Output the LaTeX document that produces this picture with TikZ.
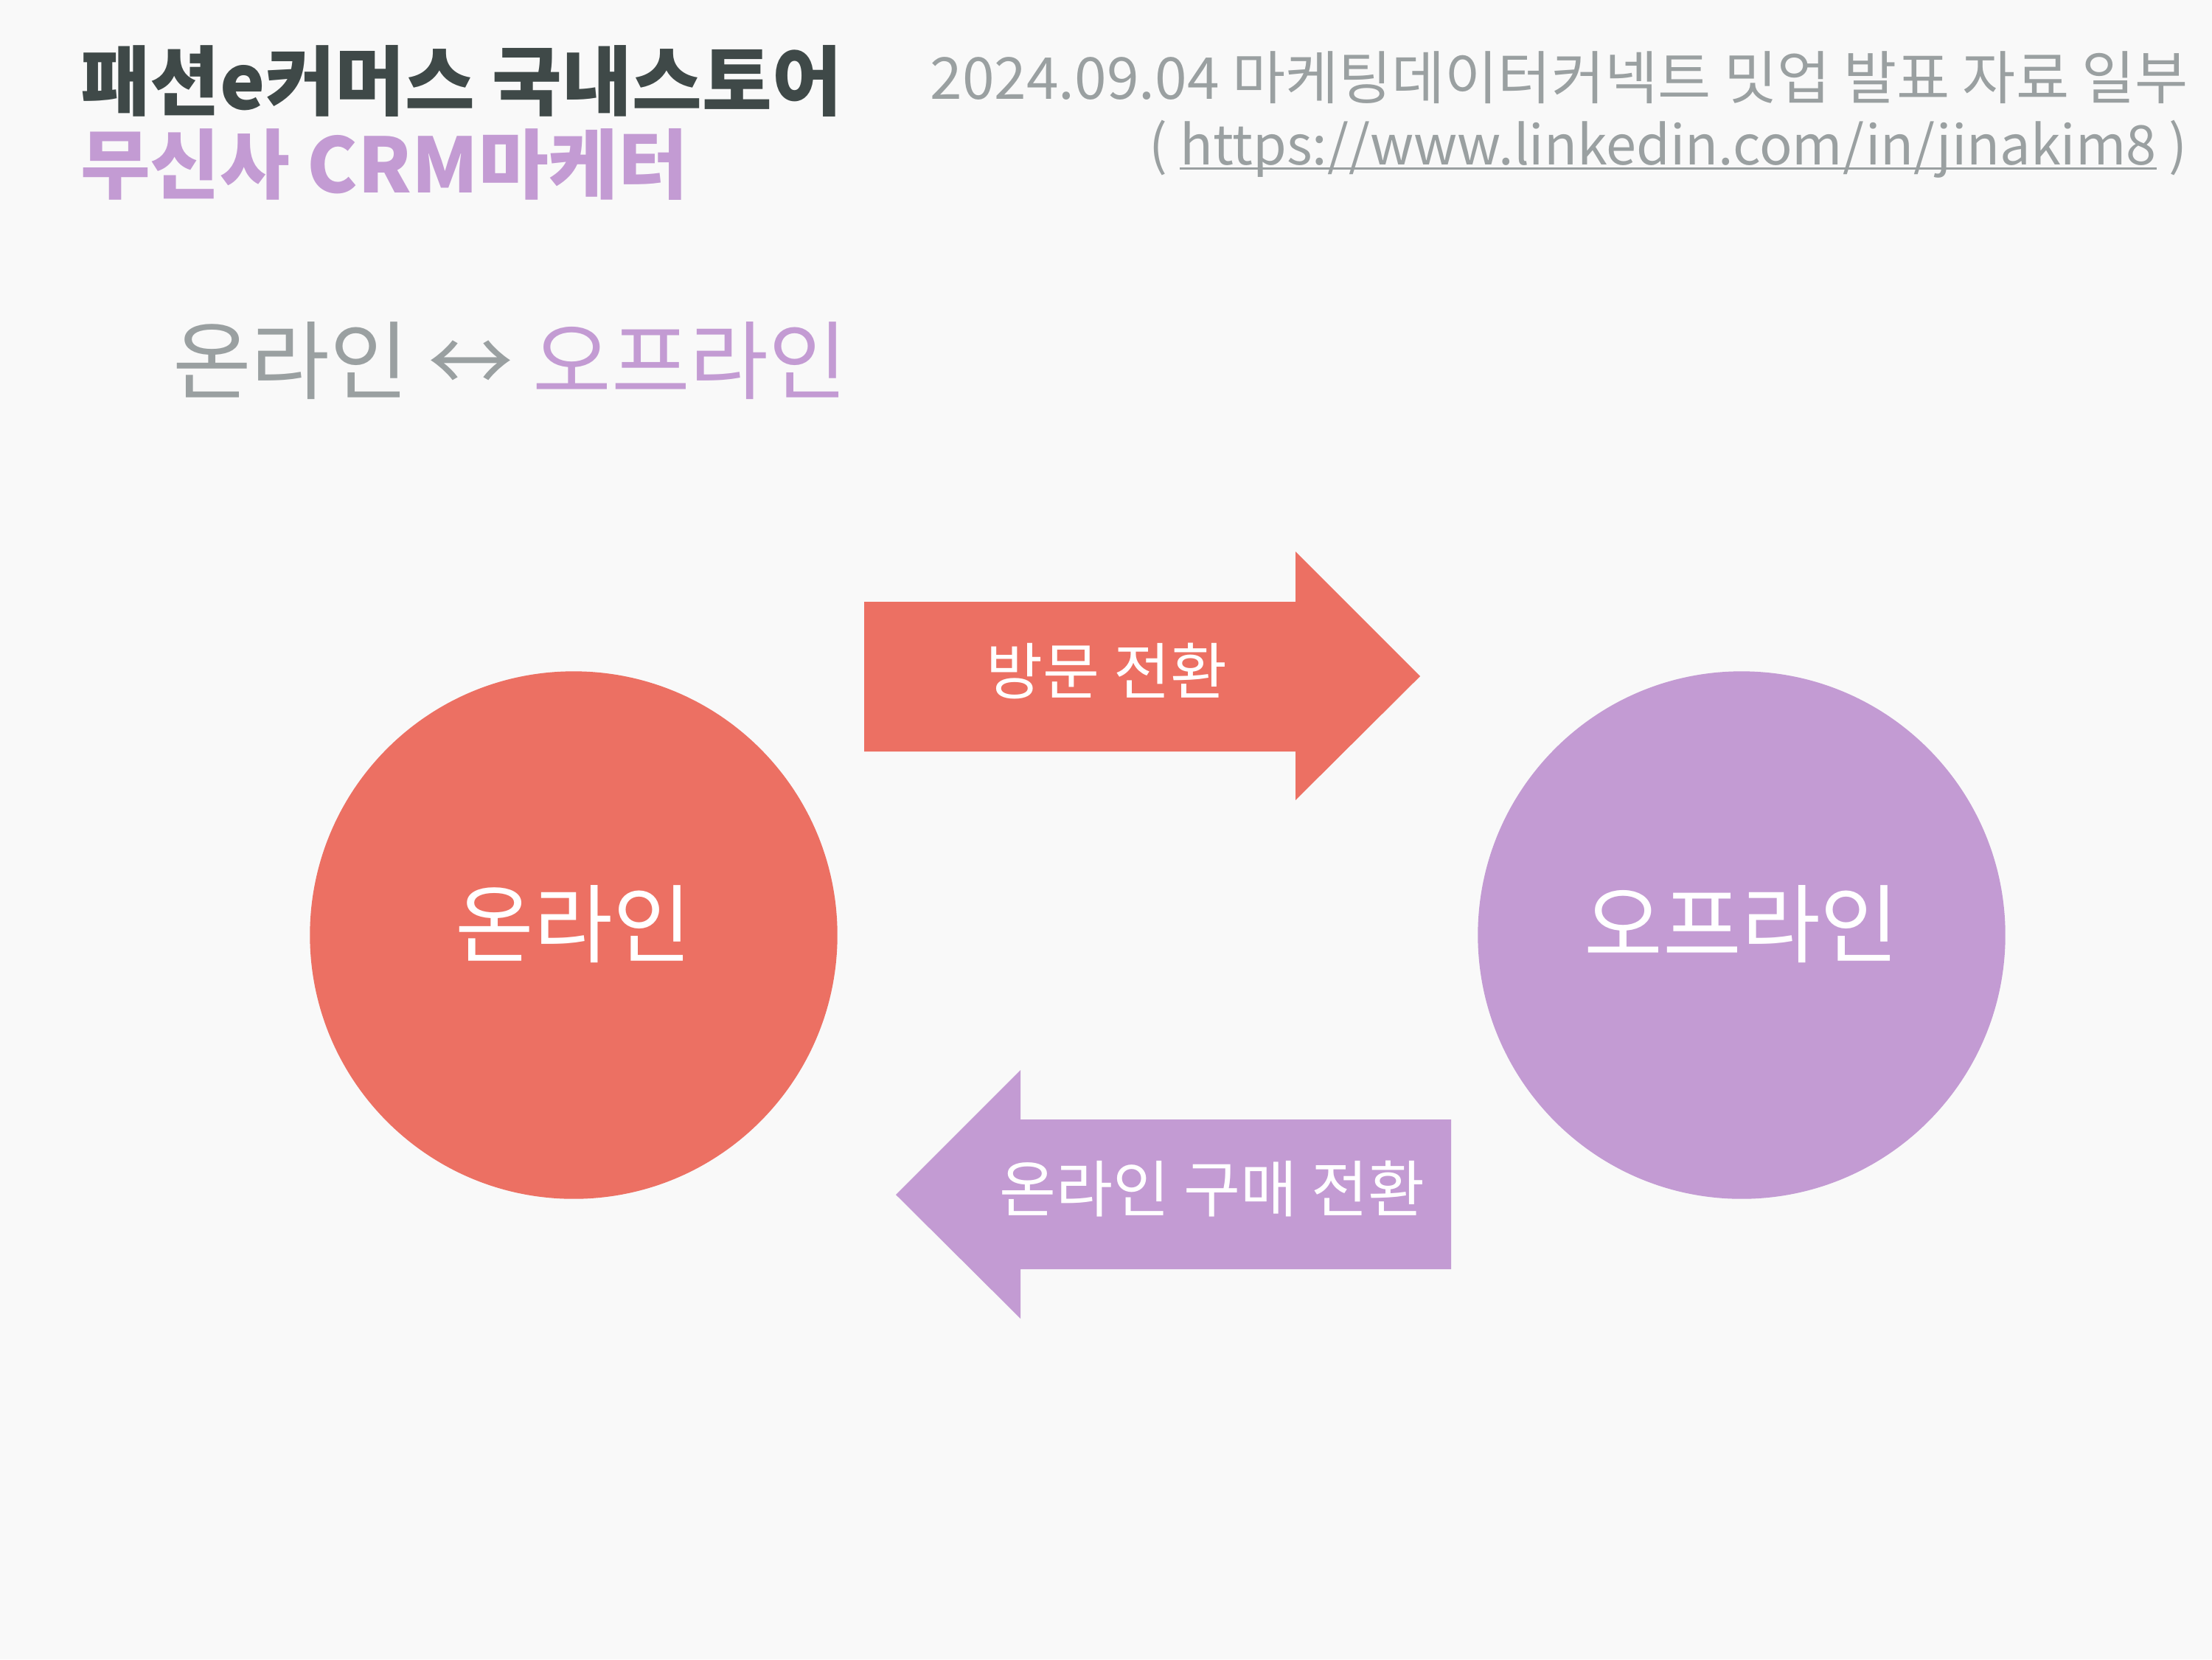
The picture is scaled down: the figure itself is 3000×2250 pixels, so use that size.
\documentclass[tikz,border=0pt]{standalone}
\usepackage{fontspec}
\setmainfont{Noto Sans CJK KR}
\definecolor{pagebg}{HTML}{F9F9F9}
\definecolor{titledark}{HTML}{3F4948}
\definecolor{softgray}{HTML}{9AA0A1}
\definecolor{coral}{HTML}{EC7063}
\definecolor{lilac}{HTML}{C39BD3}
\newcommand\linkunder[1]{\setbox0\hbox{#1}\rlap{\rule[-0.1em]{\wd0}{0.05em}}\box0\relax}
\tikzset{
  every node/.style={inner sep=0pt, outer sep=0pt},
  bigcircle/.style={circle, minimum size=7.15cm, text=white, text depth=11pt, font=\fontsize{33}{40}\selectfont},
  arrowtext/.style={text=white, font=\fontsize{23.8}{28}\selectfont}
}
\begin{document}
\begin{tikzpicture}[x=0.01cm, y=-0.01cm]
  \fill[pagebg] (0,0) rectangle (3000,2250);
  \useasboundingbox (0,0) rectangle (3000,2250);

  % header
  \node[anchor=base west, text=titledark, font=\fontsize{29.3}{34}\bfseries] (title) at (109,148) {패션e커머스 국내스토어};
  \node[anchor=base west, text=lilac, font=\fontsize{29.3}{34}\bfseries] (role) at (109,261) {무신사 CRM마케터};
  \node[anchor=base east, text=softgray, font=\fontsize{22.3}{26}\selectfont] (event) at (2968,134) {2024.09.04 마케팅데이터커넥트 밋업 발표 자료 일부};
  \node[anchor=base east, text=softgray, font=\fontsize{21}{26}\selectfont] (link) at (2966,223) {( \linkunder{https://www.linkedin.com/in/jinakim8} )};

  \node[anchor=base west, font=\fontsize{33}{40}\selectfont] (heading) at (234,532) {\textcolor{softgray}{온라인 ↔} \textcolor{lilac}{오프라인}};

  % circles
  \node[bigcircle, fill=coral] (online) at (778,1268) {온라인};
  \node[bigcircle, fill=lilac] (offline) at (2362,1268) {오프라인};

  % arrows
  \fill[coral] (1172,816) -- (1757,816) -- (1757,748) -- (1926,917) -- (1757,1085) -- (1757,1019) -- (1172,1019) -- cycle;
  \node[arrowtext] (visit) at (1501,910) {방문 전환};

  \fill[lilac] (1968,1518) -- (1384,1518) -- (1384,1451) -- (1215,1620) -- (1384,1788) -- (1384,1721) -- (1968,1721) -- cycle;
  \node[arrowtext] (purchase) at (1644,1612) {온라인 구매 전환};
\end{tikzpicture}
\end{document}
